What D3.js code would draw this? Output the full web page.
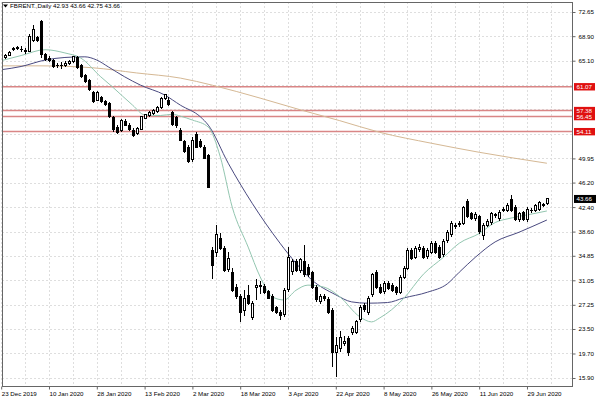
<!DOCTYPE html>
<html>
<head>
<meta charset="utf-8">
<script src="https://cdn.jsdelivr.net/npm/d3@7"></script>
<style>
  body { margin: 0; background: #fff; }
  svg { display: block; }
  text { font-family: "Liberation Sans", Arial, sans-serif; font-size: 6.2px; fill: #000; }
</style>
</head>
<body>
<div id="chart"></div>
<script>
// FBRENT daily candles, 23 Dec 2019 - 6 Jul 2020 (bar index = trading day)

var symbolTitle = "FBRENT.,Daily";
var lastBar = [42.93, 43.66, 42.75, 43.66];

var openPrices = [
  65.4, 65.6, 65.9, 66.8, 67.0, 66.9, 66.7, 66.5, 68.3, 68.7,
  71.2, 66.0, 65.4, 65.2, 64.3, 64.4, 64.3, 64.6, 65.0, 65.6,
  64.3, 62.8, 62.0, 60.1, 59.0, 59.4, 58.8, 58.4, 56.3, 54.8,
  54.3, 55.7, 55.1, 54.3, 53.8, 54.5, 56.2, 56.6, 56.9, 57.2,
  57.8, 59.3, 59.0, 57.0, 56.3, 54.3, 52.5, 51.7, 49.8, 53.6,
  52.5, 51.7, 50.4, 35.7, 35.3, 37.6, 36.0, 32.7, 32.3, 30.0,
  28.5, 26.3, 28.7, 25.3, 30.0, 30.3, 30.1, 29.3, 28.6, 26.8,
  26.1, 25.7, 29.6, 32.4, 33.9, 32.6, 33.9, 33.1, 32.2, 30.0,
  27.8, 28.5, 28.0, 26.4, 19.8, 20.5, 21.3, 22.0, 22.9, 23.0,
  24.9, 27.2, 26.0, 28.8, 32.2, 30.0, 29.3, 30.6, 30.3, 29.9,
  29.2, 31.5, 32.9, 35.7, 34.6, 35.9, 36.0, 34.7, 35.4, 36.8,
  36.2, 35.0, 37.2, 38.1, 39.4, 39.7, 39.9, 43.3, 41.4, 40.6,
  40.9, 38.0, 39.6, 40.0, 41.1, 40.6, 41.9, 41.9, 43.6, 42.4,
  40.4, 41.5, 40.4, 41.8, 41.9, 42.0, 42.7, 42.93
];
var highPrices = [
  65.9, 66.1, 66.6, 67.3, 67.4, 67.4, 67.0, 69.2, 70.7, 69.0,
  71.4, 66.3, 65.8, 65.4, 64.8, 64.9, 65.0, 65.2, 65.9, 65.9,
  64.6, 63.1, 62.3, 60.4, 60.4, 59.7, 59.0, 58.7, 56.6, 55.1,
  56.1, 56.1, 55.4, 54.6, 54.8, 56.6, 56.9, 57.3, 57.6, 58.0,
  59.5, 60.0, 59.4, 57.3, 56.6, 54.6, 52.8, 52.0, 53.3, 54.0,
  52.9, 52.0, 50.7, 36.2, 39.6, 38.4, 36.4, 35.4, 33.0, 30.5,
  28.9, 29.6, 30.3, 27.8, 31.2, 31.0, 30.4, 29.6, 28.9, 27.1,
  26.4, 29.8, 36.2, 34.3, 34.3, 34.5, 36.5, 33.5, 32.5, 30.3,
  29.0, 28.9, 28.4, 26.7, 22.3, 23.2, 22.4, 22.4, 23.9, 24.9,
  27.2, 27.6, 28.6, 32.2, 32.6, 30.4, 30.9, 30.9, 30.6, 30.2,
  31.8, 33.2, 36.0, 36.0, 36.3, 36.6, 36.3, 36.0, 37.1, 37.1,
  36.5, 37.4, 38.8, 40.2, 40.0, 40.2, 42.6, 43.6, 41.7, 41.6,
  41.2, 39.9, 40.5, 41.7, 41.5, 41.9, 42.4, 43.0, 44.2, 42.7,
  41.7, 41.8, 42.4, 42.3, 42.9, 43.4, 43.1, 43.66
];
var lowPrices = [
  65.2, 65.4, 65.8, 66.6, 66.7, 66.4, 66.1, 66.4, 68.0, 68.0,
  65.5, 65.0, 64.9, 63.9, 63.9, 63.8, 64.1, 64.4, 64.8, 63.8,
  62.4, 61.6, 60.4, 58.6, 58.8, 58.5, 58.0, 56.2, 54.1, 53.8,
  54.0, 54.9, 54.2, 53.3, 53.6, 54.3, 56.0, 56.3, 56.7, 57.0,
  57.6, 59.0, 58.1, 55.0, 54.7, 52.6, 50.8, 49.2, 49.4, 51.5,
  51.6, 49.8, 45.3, 31.3, 34.6, 35.7, 32.3, 32.3, 29.2, 28.2,
  24.6, 25.5, 27.2, 24.9, 28.0, 29.0, 29.0, 28.1, 26.2, 25.8,
  24.9, 25.4, 29.3, 31.9, 32.3, 32.2, 31.6, 31.6, 29.7, 27.7,
  27.3, 27.8, 25.8, 17.6, 16.0, 20.0, 20.8, 19.3, 22.5, 22.7,
  24.6, 26.2, 25.7, 28.5, 29.7, 28.9, 29.0, 29.5, 29.2, 28.8,
  28.9, 31.2, 32.6, 34.2, 34.3, 35.5, 34.3, 34.4, 35.1, 35.1,
  34.3, 34.7, 36.9, 37.8, 39.0, 39.3, 39.6, 40.7, 40.4, 40.3,
  38.3, 37.3, 39.3, 39.7, 40.7, 40.3, 41.6, 41.6, 41.7, 40.2,
  40.1, 40.2, 40.1, 41.5, 41.6, 41.8, 42.4, 42.75
];
var closePrices = [
  65.7, 65.9, 66.4, 67.0, 67.2, 66.8, 66.5, 68.8, 69.9, 68.3,
  66.0, 65.3, 65.2, 64.2, 64.4, 64.3, 64.7, 65.0, 65.7, 64.0,
  62.7, 61.9, 60.6, 58.8, 60.1, 58.8, 58.3, 56.4, 54.4, 54.0,
  55.9, 55.1, 54.4, 53.5, 54.6, 56.4, 56.7, 57.1, 57.4, 57.8,
  59.3, 59.8, 58.3, 55.2, 55.0, 52.8, 51.0, 49.4, 52.8, 51.7,
  51.8, 50.0, 45.5, 33.4, 38.1, 36.0, 32.6, 34.5, 29.5, 28.5,
  26.1, 28.2, 27.5, 27.5, 30.3, 30.1, 29.2, 28.3, 26.4, 26.0,
  25.6, 29.5, 34.6, 33.9, 32.6, 34.2, 31.9, 31.9, 30.0, 28.0,
  28.6, 28.2, 26.0, 19.8, 21.0, 22.2, 21.6, 19.8, 23.6, 24.6,
  26.9, 26.5, 28.3, 31.9, 30.0, 29.2, 30.5, 29.8, 29.5, 29.1,
  31.5, 32.9, 35.7, 34.5, 36.0, 36.1, 34.6, 35.7, 36.8, 35.4,
  34.6, 37.1, 38.5, 39.9, 39.6, 39.8, 42.4, 40.9, 40.6, 41.3,
  38.6, 39.6, 40.2, 41.4, 41.2, 41.6, 42.0, 42.7, 41.9, 40.4,
  41.4, 40.4, 42.1, 41.9, 42.6, 43.1, 42.8, 43.66
];

// moving averages: [bar index, price]
var maFastPts = [
  [0, 65.1], [5, 65.9], [11, 66.8], [16, 66.3], [20, 65.5], [25, 62.6],
  [28, 61.0], [33, 58.2], [36, 56.7], [40, 56.6], [43, 56.8], [45, 56.5],
  [48, 55.9], [52, 54.8], [55, 50.2], [58, 42.4], [62, 36.2], [65, 31.6],
  [68, 28.5], [71, 28.0], [74, 29.5], [77, 30.3], [81, 30.0], [85, 28.5],
  [90, 25.4], [93, 24.6], [95, 25.2], [101, 28.2], [106, 32.0], [111, 34.6],
  [115, 36.8], [120, 38.3], [124, 40.0], [128, 40.7], [133, 41.3], [137, 41.8]
];
var maSlowPts = [
  [0, 63.7], [5, 64.2], [11, 65.2], [16, 65.6], [21, 65.7], [24, 65.2],
  [27, 64.1], [31, 62.6], [35, 61.3], [41, 59.8], [45, 58.2], [50, 56.4],
  [52, 55.1], [57, 49.2], [63, 43.0], [70, 36.8], [74, 33.7], [78, 31.1],
  [84, 28.8], [88, 27.7], [92, 27.5], [97, 27.6], [101, 28.3], [107, 29.2],
  [112, 30.5], [115, 32.3], [119, 34.6], [124, 37.0], [130, 38.5], [137, 40.4]
];
var ma200Pts = [
  [0, 64.3], [10, 64.3], [23, 64.0], [34, 63.2], [45, 62.4], [53, 61.3],
  [65, 59.3], [75, 57.5], [85, 55.8], [95, 54.0], [108, 52.3], [120, 50.9],
  [137, 49.2]
];

var levelPrices = [61.07, 57.38, 56.45, 54.11];
var yTickValues = [72.65, 68.90, 65.10, 61.30, 57.55, 53.75, 49.95, 46.20,
                   42.40, 38.60, 34.85, 31.05, 27.25, 23.50, 19.70, 15.90];
var xTickLabels = ["23 Dec 2019", "10 Jan 2020", "28 Jan 2020", "13 Feb 2020",
                   "2 Mar 2020", "18 Mar 2020", "3 Apr 2020", "22 Apr 2020",
                   "8 May 2020", "26 May 2020", "11 Jun 2020", "29 Jun 2020"];

// Chart dimensions
var svgWidth = 600;
var svgHeight = 399;
var plot = { left: 2, top: 2, right: 572, bottom: 386 };

var svg = d3.select("#chart")
  .append("svg")
  .attr("width", svgWidth)
  .attr("height", svgHeight);

var xScale = d3.scaleLinear().domain([0, 137]).range([1.2, 546.9]);
var yScale = d3.scaleLinear().domain([15.90, 72.65]).range([378, 12]);

svg.append("clipPath").attr("id", "plotClip")
  .append("rect")
  .attr("x", plot.left).attr("y", plot.top)
  .attr("width", plot.right - plot.left).attr("height", plot.bottom - plot.top);

// Grid (dotted)
var grid = svg.append("g").attr("shape-rendering", "crispEdges");
grid.selectAll(".vgrid")
  .data(d3.range(0, 139, 6))
  .enter().append("line")
  .attr("x1", d => Math.round(xScale(d)) + 0.5)
  .attr("x2", d => Math.round(xScale(d)) + 0.5)
  .attr("y1", plot.top).attr("y2", plot.bottom)
  .attr("stroke", "#dedede").attr("stroke-dasharray", "2,2");
grid.selectAll(".hgrid")
  .data(yTickValues)
  .enter().append("line")
  .attr("x1", plot.left).attr("x2", plot.right)
  .attr("y1", d => Math.round(yScale(d)) + 0.5)
  .attr("y2", d => Math.round(yScale(d)) + 0.5)
  .attr("stroke", "#dedede").attr("stroke-dasharray", "2,2");

var chartGroup = svg.append("g").attr("clip-path", "url(#plotClip)");

// Horizontal levels
chartGroup.selectAll(".level")
  .data(levelPrices)
  .enter().append("line")
  .attr("x1", plot.left).attr("x2", plot.right)
  .attr("y1", d => yScale(d)).attr("y2", d => yScale(d))
  .attr("stroke", "#d98686").attr("stroke-width", 1.5);

// Moving averages
var maLine = d3.line()
  .x(d => xScale(d[0]))
  .y(d => yScale(d[1]))
  .curve(d3.curveMonotoneX);

chartGroup.append("path").datum(ma200Pts).attr("d", maLine)
  .attr("fill", "none").attr("stroke", "#d5b894").attr("stroke-width", 1);
chartGroup.append("path").datum(maSlowPts).attr("d", maLine)
  .attr("fill", "none").attr("stroke", "#4a4a80").attr("stroke-width", 1);
chartGroup.append("path").datum(maFastPts).attr("d", maLine)
  .attr("fill", "none").attr("stroke", "#93c6b0").attr("stroke-width", 1);

// Candles
var bars = d3.range(openPrices.length);
var candles = chartGroup.append("g").attr("shape-rendering", "crispEdges");
var px = i => Math.round(xScale(i)) + 0.5;

candles.selectAll(".wick")
  .data(bars)
  .enter().append("line")
  .attr("x1", px).attr("x2", px)
  .attr("y1", i => yScale(highPrices[i]))
  .attr("y2", i => yScale(lowPrices[i]))
  .attr("stroke", "#000");

candles.selectAll(".body")
  .data(bars)
  .enter().append("rect")
  .attr("x", i => px(i) - 1)
  .attr("width", 2)
  .attr("y", i => yScale(Math.max(openPrices[i], closePrices[i])))
  .attr("height", i => Math.max(0.01, Math.abs(yScale(openPrices[i]) - yScale(closePrices[i]))))
  .attr("fill", i => closePrices[i] >= openPrices[i] ? "#fff" : "#000")
  .attr("stroke", "#000");

// Frame
svg.append("rect")
  .attr("x", plot.left + 0.5).attr("y", plot.top + 0.5)
  .attr("width", plot.right - plot.left).attr("height", plot.bottom - plot.top)
  .attr("fill", "none").attr("stroke", "#666")
  .attr("shape-rendering", "crispEdges");

// Axes
var hiddenTick = d => levelPrices.some(l => Math.abs(yScale(l) - yScale(d)) < 6);
var rightAxis = d3.axisRight(yScale)
  .tickValues(yTickValues.filter(d => !hiddenTick(d)))
  .tickSize(3).tickPadding(3)
  .tickFormat(d3.format(".2f"));
var yAxisG = svg.append("g")
  .attr("transform", `translate(${plot.right + 0.5}, 0)`)
  .call(rightAxis);
yAxisG.select(".domain").remove();
yAxisG.selectAll("text").attr("font-size", null).attr("font-family", null);
yAxisG.selectAll("line").attr("stroke", "#666");

var bottomAxis = d3.axisBottom(xScale)
  .tickValues(d3.range(0, 133, 12))
  .tickSize(3).tickPadding(2)
  .tickFormat((d, i) => xTickLabels[i]);
var xAxisG = svg.append("g")
  .attr("transform", `translate(0, ${plot.bottom + 0.5})`)
  .call(bottomAxis);
xAxisG.select(".domain").remove();
xAxisG.selectAll("text").attr("text-anchor", "start").attr("font-size", null).attr("font-family", null);
xAxisG.selectAll("line").attr("stroke", "#666");

// Level price labels
var labelG = svg.append("g");
levelPrices.forEach(function(p) {
  var y = yScale(p);
  labelG.append("rect")
    .attr("x", plot.right + 2).attr("y", y - 3.6)
    .attr("width", 21).attr("height", 7.4)
    .attr("fill", "#e01010");
  labelG.append("text")
    .attr("x", plot.right + 4.5).attr("y", y + 2.2)
    .style("fill", "#fff")
    .text(p.toFixed(2));
});

// Current price label
var lastY = yScale(lastBar[3]);
labelG.append("rect")
  .attr("x", plot.right + 2).attr("y", lastY - 4)
  .attr("width", 22).attr("height", 8)
  .attr("fill", "#000");
labelG.append("text")
  .attr("x", plot.right + 4.5).attr("y", lastY + 2.2)
  .style("fill", "#fff")
  .text(lastBar[3].toFixed(2));

// Header
svg.append("path")
  .attr("d", "M3,4.5 L8,4.5 L5.5,7.5 Z")
  .attr("fill", "#000");
svg.append("text")
  .attr("x", 10).attr("y", 8.3)
  .text(symbolTitle + "  " + lastBar.map(d => d.toFixed(2)).join(" "));
</script>
</body>
</html>
